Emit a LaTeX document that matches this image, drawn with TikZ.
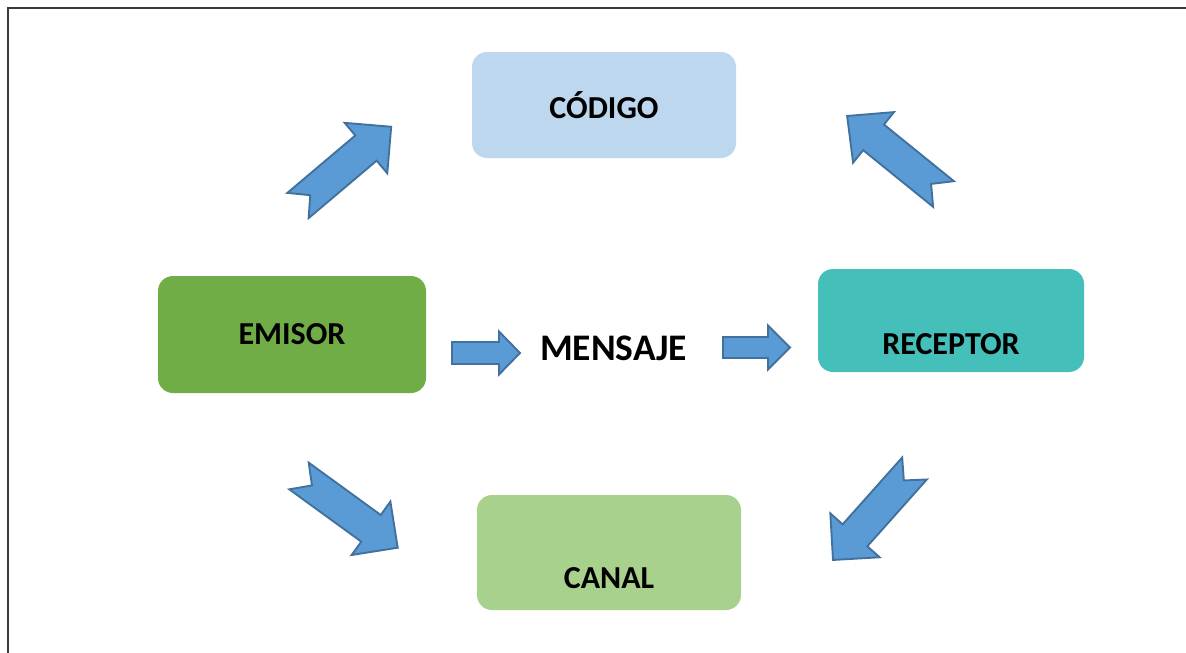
\documentclass[tikz,border=0pt]{standalone}
\usepackage{fontspec}
\setmainfont{Carlito}
\definecolor{codigoC}{HTML}{BDD7EE}
\definecolor{emisorC}{HTML}{70AD47}
\definecolor{receptorC}{HTML}{45BFB9}
\definecolor{canalC}{HTML}{A9D18E}
\definecolor{arrowFill}{HTML}{5B9BD5}
\definecolor{arrowDraw}{HTML}{41719C}
\definecolor{frameC}{HTML}{3A3A3A}
\tikzset{
  box/.style={rounded corners=15pt, inner sep=0pt},
  lbl/.style={font=\fontsize{32}{38}\selectfont\bfseries, text=black, inner sep=0pt},
  bigl/.style={font=\fontsize{37.5}{44}\selectfont\bfseries, text=black, inner sep=0pt},
  blockarrow/.style={fill=arrowFill, draw=arrowDraw, line width=1.9pt, line join=miter},
  frameline/.style={draw=frameC, line width=1.4pt}
}
% #1 L, #2 shaft width, #3 head width, #4 head length, #5 notch depth
\newcommand{\blkarrow}[5]{%
  \path[blockarrow] (0,#2/2) -- (#1-#4,#2/2) -- (#1-#4,#3/2) -- (#1,0)
    -- (#1-#4,-#3/2) -- (#1-#4,-#2/2) -- (0,-#2/2) -- (#5,0) -- cycle;}
\begin{document}
\begin{tikzpicture}[x=1pt,y=-1pt]
\useasboundingbox (0,0) rectangle (1186,653);
% frame
\coordinate (fa) at (7,8);
\coordinate (fb) at (1186,8);
\coordinate (fc) at (8,653);
\draw[frameline] (fb) -- (fa);
\draw[frameline] (8,8) -- (fc);
% boxes
\node[box, fill=codigoC, minimum width=264pt, minimum height=106pt] (codigo) at (604,105) {};
\node[lbl] (tcodigo) at (codigo.center) {CÓDIGO};
\node[box, fill=emisorC, minimum width=268pt, minimum height=117pt] (emisor) at (292,334.5) {};
\node[lbl] (temisor) at (emisor.center) {EMISOR};
\node[box, fill=receptorC, minimum width=266pt, minimum height=103pt] (receptor) at (951,320.5) {};
\node[lbl] (treceptor) at ([yshift=-23.5pt]receptor.center) {RECEPTOR};
\node[box, fill=canalC, minimum width=264pt, minimum height=115pt] (canal) at (609,552.5) {};
\node[lbl] (tcanal) at ([yshift=-25.5pt]canal.center) {CANAL};
\node[bigl] (mensaje) at (613.5,348) {MENSAJE};
% block arrows
\begin{scope}[shift={(298,205.5)}, rotate=40.2]\blkarrow{122}{33}{66}{33}{16}\end{scope}
\begin{scope}[shift={(943.5,194)}, rotate=141]\blkarrow{124}{33}{65}{34}{16}\end{scope}
\begin{scope}[shift={(299,476)}, rotate=-36]\blkarrow{122}{33}{66}{33}{16}\end{scope}
\begin{scope}[shift={(914.5,468.5)}, rotate=228.3]\blkarrow{122.5}{33}{66}{33}{16}\end{scope}
\begin{scope}[shift={(452,353)}]\blkarrow{68}{22}{43}{21}{0}\end{scope}
\begin{scope}[shift={(723,347.5)}]\blkarrow{67}{21}{44}{22}{0}\end{scope}
\end{tikzpicture}
\end{document}
